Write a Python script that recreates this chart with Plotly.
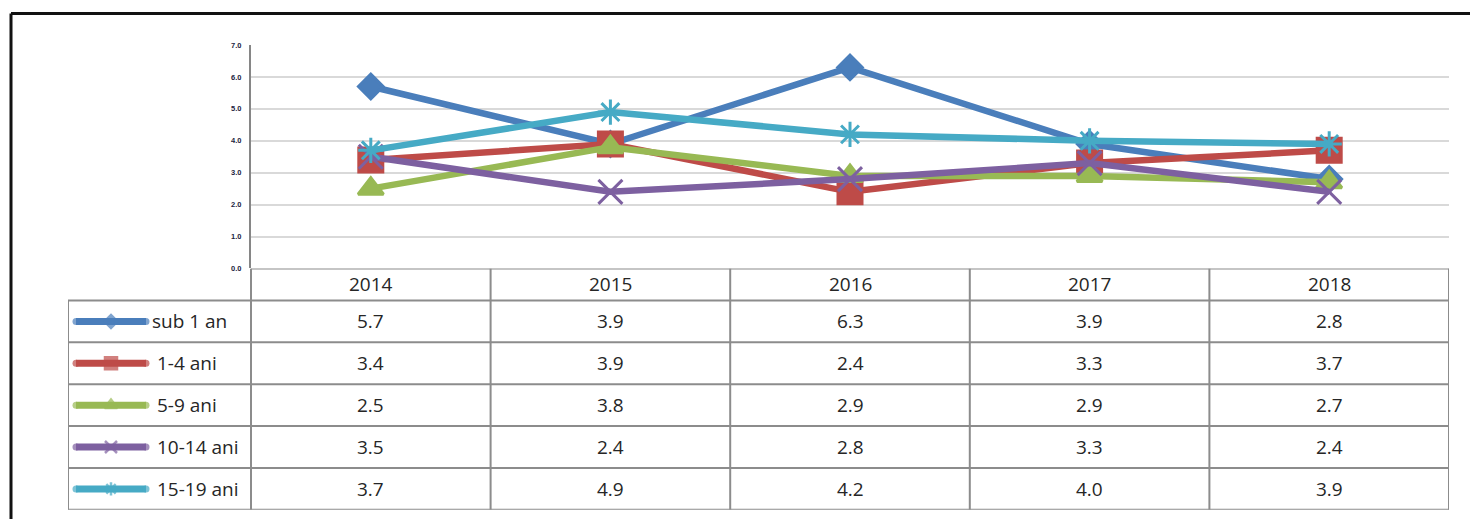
import plotly.graph_objects as go

# ---------------- data ----------------
years = ["2014", "2015", "2016", "2017", "2018"]
series_names = ["sub 1 an", "1-4 ani", "5-9 ani", "10-14 ani", "15-19 ani"]
sub1 = [5.7, 3.9, 6.3, 3.9, 2.8]
ani_1_4 = [3.4, 3.9, 2.4, 3.3, 3.7]
ani_5_9 = [2.5, 3.8, 2.9, 2.9, 2.7]
ani_10_14 = [3.5, 2.4, 2.8, 3.3, 2.4]
ani_15_19 = [3.7, 4.9, 4.2, 4.0, 3.9]
y_ticks = [0, 1, 2, 3, 4, 5, 6, 7]

values = [sub1, ani_1_4, ani_5_9, ani_10_14, ani_15_19]
colors = ["#4A7EBB", "#BE4B48", "#98B954", "#7D60A0", "#46AAC5"]
symbols = ["diamond", "square", "triangle-up", "x-thin-open", "asterisk-open"]
msizes = [19, 24, 22, 24, 21]
key_msizes = [10, 12, 11, 12, 11]

# page placement compensation (body margin etc.)
OFFX = 8
AY, SY = 12.0, 0.981


def fy(y):
    return (y - AY) / SY


W = 1478 - 2 * OFFX
H = 517
PX_L, PX_R = 251 - OFFX, 1449 - OFFX
PX_LBL = 68 - OFFX
PX_TOP, PX_ZERO = fy(45), fy(268)
PX_HDR = fy(300)
PX_BOT = fy(509)

col_w = (PX_R - PX_L) / len(years)
row_h = (PX_BOT - PX_HDR) / len(series_names)
LW = (PX_L - PX_LBL) / col_w
HH = (PX_HDR - PX_ZERO) / row_h

fig = go.Figure()
xs = list(range(len(years)))

for name, vals, c, s, ms in zip(series_names, values, colors, symbols, msizes):
    fig.add_trace(go.Scatter(
        x=xs, y=vals, name=name, mode="lines+markers",
        line=dict(color=c, width=6.5),
        marker=dict(symbol=s, size=ms, color=c, line=dict(color=c, width=3)),
        xaxis="x", yaxis="y", showlegend=False, cliponaxis=False,
    ))

# legend keys inside the table
key_x0, key_x1 = (76 - 68) / col_w, (146 - 68) / col_w
key_xm = (key_x0 + key_x1) / 2
for i, (c, s, ms) in enumerate(zip(colors, symbols, key_msizes)):
    yc = i + 0.5
    fig.add_trace(go.Scatter(
        x=[key_x0, key_xm, key_x1], y=[yc, yc, yc], mode="lines+markers",
        line=dict(color=c, width=7),
        marker=dict(symbol=["circle", s, "circle"], size=[7, ms, 7], color=c,
                    line=dict(color=c, width=[0, 2.5, 0])),
        xaxis="x2", yaxis="y2", showlegend=False, hoverinfo="skip",
    ))

font_tbl = dict(family="Open Sans, Liberation Sans, sans-serif", size=19, color="#262626")
ann = []
for j, yr in enumerate(years):
    ann.append(dict(x=LW + j + 0.5, y=-HH / 2, xref="x2", yref="y2", text=yr,
                    showarrow=False, font=font_tbl, xanchor="center", yanchor="middle"))
label_px = [150, 155, 155, 155, 155]
for i, (name, vals) in enumerate(zip(series_names, values)):
    ann.append(dict(x=(label_px[i] - 68) / col_w, y=i + 0.5, xref="x2", yref="y2", text=name,
                    showarrow=False, font=font_tbl, xanchor="left", yanchor="middle"))
    for j, v in enumerate(vals):
        ann.append(dict(x=LW + j + 0.5, y=i + 0.5, xref="x2", yref="y2", text=f"{v:.1f}",
                        showarrow=False, font=font_tbl, xanchor="center", yanchor="middle"))

gcol = "#8C8C8C"
shapes = []
ncols = len(years)
nrows = len(series_names)
shapes.append(dict(type="line", xref="x2", yref="y2", x0=LW, x1=LW + ncols, y0=-HH, y1=-HH,
                   line=dict(color=gcol, width=2)))
for r in range(nrows + 1):
    shapes.append(dict(type="line", xref="x2", yref="y2", x0=0, x1=LW + ncols, y0=r, y1=r,
                       line=dict(color=gcol, width=2)))
shapes.append(dict(type="line", xref="x2", yref="y2", x0=0, x1=0, y0=0, y1=nrows,
                   line=dict(color=gcol, width=2)))
for j in range(ncols + 1):
    shapes.append(dict(type="line", xref="x2", yref="y2", x0=LW + j, x1=LW + j, y0=-HH, y1=nrows,
                       line=dict(color=gcol, width=2)))
# outer black frame (top and left)
frame_y = 1 - 1.5 / H
frame_x = (11 - OFFX) / W
shapes.append(dict(type="line", xref="paper", yref="paper", x0=frame_x, x1=1.0,
                   y0=frame_y, y1=frame_y, line=dict(color="#111111", width=3)))
shapes.append(dict(type="line", xref="paper", yref="paper", x0=frame_x, x1=frame_x,
                   y0=0, y1=frame_y, line=dict(color="#111111", width=3)))

fig.update_layout(
    width=W, height=H,
    margin=dict(l=0, r=0, t=0, b=0),
    paper_bgcolor="white", plot_bgcolor="rgba(0,0,0,0)",
    showlegend=False,
    xaxis=dict(domain=[PX_L / W, PX_R / W], range=[-0.5, len(years) - 0.5],
               showgrid=False, zeroline=False, showticklabels=False, showline=False,
               fixedrange=True),
    yaxis=dict(domain=[1 - PX_ZERO / H, 1 - PX_TOP / H], range=[0, 7],
               tickvals=y_ticks, tickformat=".1f", ticks="",
               tickfont=dict(family="Liberation Sans, Arial, sans-serif", size=7.5,
                             color="#1C2340", weight="bold"),
               ticklabelstandoff=6,
               showgrid=True, gridcolor="#D9D9D9", gridwidth=2,
               zeroline=False, showline=True, linecolor="#868686", linewidth=2,
               fixedrange=True),
    xaxis2=dict(domain=[PX_LBL / W, PX_R / W], range=[0, LW + ncols], anchor="y2",
                visible=False, fixedrange=True),
    yaxis2=dict(domain=[1 - PX_BOT / H, 1 - PX_ZERO / H], range=[nrows, -HH], anchor="x2",
                visible=False, fixedrange=True),
    annotations=ann,
    shapes=shapes,
)

fig.write_html("out.html")
